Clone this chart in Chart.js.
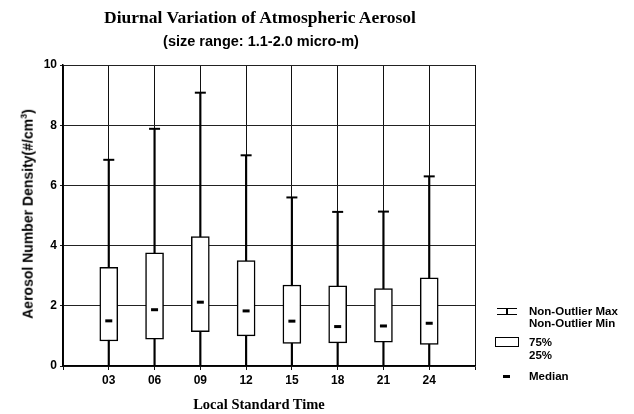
<!DOCTYPE html>
<html>
<head>
<meta charset="utf-8">
<script src="https://cdn.jsdelivr.net/npm/chart.js@4/dist/chart.umd.min.js"></script>
<style>
  body { margin: 0; background: #fff; }
  #wrap { position: relative; width: 634px; height: 414px; }
  .txt { position: absolute; white-space: nowrap; color: #000; }
  .title { font: bold 17.5px "Liberation Serif", serif; left: 260px; top: 17px; transform: translate(-50%, -50%); }
  .subtitle { font: bold 14.5px "Liberation Sans", sans-serif; left: 261px; top: 41px; transform: translate(-50%, -50%); }
  .xtitle { font: bold 14.5px "Liberation Serif", serif; left: 259px; top: 404px; transform: translate(-50%, -50%); }
  .ytitle { font: bold 14px "Liberation Sans", sans-serif; left: 27px; top: 214px; transform: translate(-50%, -50%) rotate(-90deg); }
  .leg { font: bold 11.5px "Liberation Sans", sans-serif; left: 529px; transform: translateY(-50%); }
  .sym { position: absolute; box-sizing: border-box; }
</style>
</head>
<body>
<div id="wrap">
  <canvas id="chart" width="634" height="414"></canvas>
  <div class="txt title">Diurnal Variation of Atmospheric Aerosol</div>
  <div class="txt subtitle">(size range: 1.1-2.0 micro-m)</div>
  <div class="txt xtitle">Local Standard Time</div>
  <div class="txt ytitle">Aerosol Number Density(#/cm<sup style="font-size:9px">3</sup>)</div>

  <!-- legend -->
  <div class="sym" style="left:497px;top:308px;width:20px;height:7px;border-top:1.5px solid #000;border-bottom:1.5px solid #000;"></div>
  <div class="sym" style="left:506px;top:308px;width:2px;height:7px;background:#000;"></div>
  <div class="txt leg" style="top:311px">Non-Outlier Max</div>
  <div class="txt leg" style="top:323px">Non-Outlier Min</div>
  <div class="sym" style="left:495px;top:337px;width:24px;height:10px;border:1.5px solid #000;"></div>
  <div class="txt leg" style="top:342px">75%</div>
  <div class="txt leg" style="top:355px">25%</div>
  <div class="sym" style="left:503px;top:375px;width:7px;height:2.5px;background:#000;"></div>
  <div class="txt leg" style="top:376px">Median</div>
</div>
<script>
// hours of day (categories)
const hours = ['03', '06', '09', '12', '15', '18', '21', '24'];
// box plot values
const maxVals = [6.85, 7.88, 9.08, 7.0, 5.6, 5.12, 5.13, 6.3];
const q3Vals = [3.28, 3.76, 4.3, 3.5, 2.69, 2.66, 2.57, 2.93];
const medianVals = [1.5, 1.87, 2.12, 1.83, 1.49, 1.31, 1.33, 1.42];
const q1Vals = [0.83, 0.89, 1.14, 1.0, 0.75, 0.77, 0.79, 0.72];
const minVals = [0, 0, 0, 0, 0, 0, 0, 0];
const yTicks = [0, 2, 4, 6, 8, 10];

const pos = hours.map((h, i) => i + 1);

const whiskers = pos.map((x, i) => ({ x, y: [minVals[i], maxVals[i]] }));
const boxes = pos.map((x, i) => ({ x, y: [q1Vals[i], q3Vals[i]] }));
const caps = pos.flatMap((x, i) => [{ x, y: maxVals[i] }, { x, y: minVals[i] }]);
const medians = pos.map((x, i) => ({ x, y: medianVals[i] }));

const tickFont = { family: 'Liberation Sans', size: 12, weight: 'bold' };

new Chart(document.getElementById('chart'), {
  type: 'bar',
  data: {
    datasets: [
      {
        type: 'bar', data: whiskers, backgroundColor: '#000',
        barThickness: 1.5, grouped: false, order: 4
      },
      {
        type: 'bar', data: boxes, backgroundColor: '#fff', borderColor: '#000',
        borderWidth: 1.5, borderSkipped: false, barThickness: 18, grouped: false, order: 3
      },
      {
        type: 'line', data: caps, showLine: false, pointStyle: 'line',
        pointRadius: 5.5, borderColor: '#000', borderWidth: 2, order: 2
      },
      {
        type: 'line', data: medians, showLine: false, pointStyle: 'line',
        pointRadius: 3.5, borderColor: '#000', borderWidth: 3, order: 1
      }
    ]
  },
  options: {
    responsive: false,
    animation: false,
    devicePixelRatio: 1,
    layout: { padding: { top: 65, right: 159, bottom: 0, left: 0 } },
    plugins: { legend: { display: false }, tooltip: { enabled: false } },
    scales: {
      x: {
        type: 'linear', min: 0, max: 9, offset: false,
        afterFit: s => { s.height = 48; },
        grid: { color: '#111', lineWidth: 1, offset: false, tickLength: 4 },
        border: { color: '#000', width: 1.5 },
        ticks: {
          stepSize: 1, autoSkip: false, padding: 3, color: '#000', font: tickFont,
          callback: v => hours[v - 1] ?? ''
        }
      },
      y: {
        min: 0, max: 10,
        afterFit: s => { s.width = 63; },
        afterBuildTicks: s => { s.ticks = yTicks.map(v => ({ value: v })); },
        grid: { color: '#222', lineWidth: 1, tickLength: 3 },
        border: { color: '#000', width: 1.5 },
        ticks: { padding: 3, color: '#000', font: tickFont }
      }
    }
  }
});
</script>
</body>
</html>
